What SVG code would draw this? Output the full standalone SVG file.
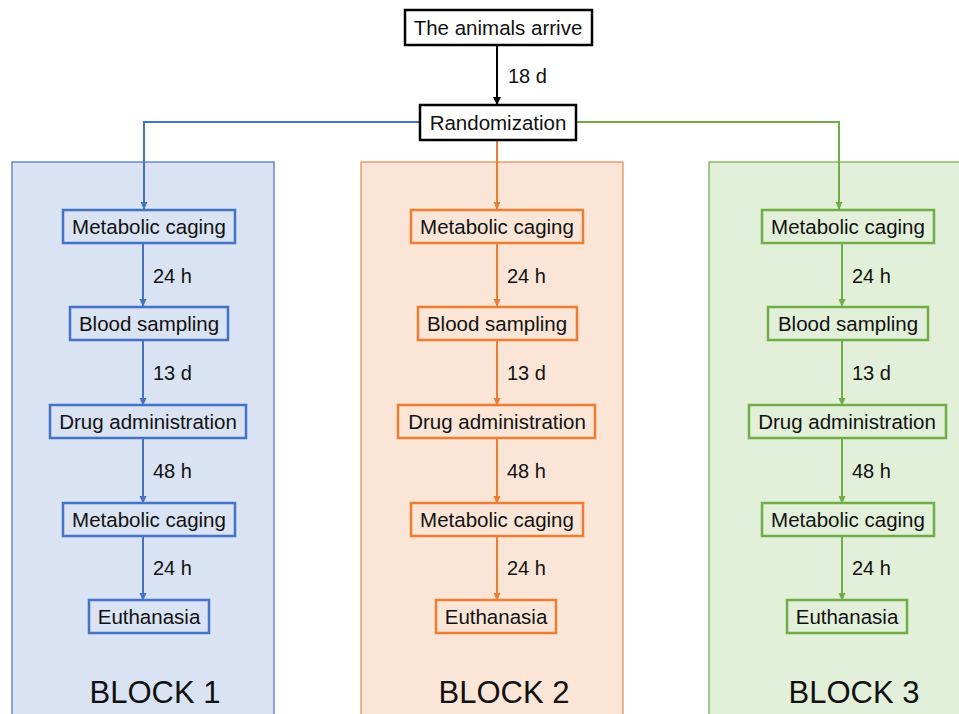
<svg xmlns="http://www.w3.org/2000/svg" width="959" height="714" viewBox="0 0 959 714">
<defs>
<marker id="ak" markerWidth="8" markerHeight="8" refX="7" refY="4" orient="auto" markerUnits="userSpaceOnUse"><path d="M0,0 L8,4 L0,8 z" fill="#000"/></marker>
<marker id="ab" markerWidth="8" markerHeight="8" refX="7" refY="4" orient="auto" markerUnits="userSpaceOnUse"><path d="M0,0.5 L8,4 L0,7.5 z" fill="#4472c4"/></marker>
<marker id="ao" markerWidth="8" markerHeight="8" refX="7" refY="4" orient="auto" markerUnits="userSpaceOnUse"><path d="M0,0.5 L8,4 L0,7.5 z" fill="#ed7d31"/></marker>
<marker id="ag" markerWidth="8" markerHeight="8" refX="7" refY="4" orient="auto" markerUnits="userSpaceOnUse"><path d="M0,0.5 L8,4 L0,7.5 z" fill="#70ad47"/></marker>
</defs>
<style>
text{font-family:"Liberation Sans",Arial,sans-serif;fill:#111;}
.t{font-size:20.5px;text-anchor:middle;}
.l{font-size:20px;}
.bl{font-size:31px;text-anchor:middle;}
.nk{fill:#fff;stroke:#000;stroke-width:2.5;}
.nb{fill:#dae3f3;stroke:#4472c4;stroke-width:2.5;}
.no{fill:#fbe5d6;stroke:#ed7d31;stroke-width:2.5;}
.ng{fill:#e2f0d9;stroke:#70ad47;stroke-width:2.5;}
.cb{stroke:#4472c4;stroke-width:2;fill:none;}
.co{stroke:#ed7d31;stroke-width:2;fill:none;}
.cg{stroke:#70ad47;stroke-width:2;fill:none;}
.ck{stroke:#000;stroke-width:2;fill:none;}
</style>
<g id="blocks">
<rect x="12" y="162" width="262" height="560" fill="#dae3f3" stroke="#4472c4" stroke-width="1.2"/>
<rect x="361" y="162" width="262" height="560" fill="#fbe5d6" stroke="#e0894e" stroke-width="1.2"/>
<rect x="709" y="162" width="262" height="560" fill="#e2f0d9" stroke="#70ad47" stroke-width="1.2"/>
<text class="bl" x="155" y="703">BLOCK 1</text>
<text class="bl" x="504" y="703">BLOCK 2</text>
<text class="bl" x="854" y="703">BLOCK 3</text>
</g>
<g id="connectors">
<line class="ck" x1="497" y1="45" x2="497" y2="104" marker-end="url(#ak)"/>
<text class="l" x="508" y="83">18 d</text>
<polyline class="cb" points="420,122 144,122 144,209" marker-end="url(#ab)"/>
<line class="co" x1="497" y1="140" x2="497" y2="209" marker-end="url(#ao)"/>
<polyline class="cg" points="576,122 839,122 839,209" marker-end="url(#ag)"/>
<g>
<line class="cb" x1="143" y1="243" x2="143" y2="306" marker-end="url(#ab)"/>
<line class="cb" x1="143" y1="340" x2="143" y2="405" marker-end="url(#ab)"/>
<line class="cb" x1="143" y1="438" x2="143" y2="503" marker-end="url(#ab)"/>
<line class="cb" x1="143" y1="536" x2="143" y2="600" marker-end="url(#ab)"/>
<text class="l" x="153" y="283">24 h</text>
<text class="l" x="153" y="380">13 d</text>
<text class="l" x="153" y="478">48 h</text>
<text class="l" x="153" y="575">24 h</text>
</g>
<g>
<line class="co" x1="497" y1="243" x2="497" y2="306" marker-end="url(#ao)"/>
<line class="co" x1="497" y1="340" x2="497" y2="405" marker-end="url(#ao)"/>
<line class="co" x1="497" y1="438" x2="497" y2="503" marker-end="url(#ao)"/>
<line class="co" x1="497" y1="536" x2="497" y2="600" marker-end="url(#ao)"/>
<text class="l" x="507" y="283">24 h</text>
<text class="l" x="507" y="380">13 d</text>
<text class="l" x="507" y="478">48 h</text>
<text class="l" x="507" y="575">24 h</text>
</g>
<g>
<line class="cg" x1="842" y1="243" x2="842" y2="306" marker-end="url(#ag)"/>
<line class="cg" x1="842" y1="340" x2="842" y2="405" marker-end="url(#ag)"/>
<line class="cg" x1="842" y1="438" x2="842" y2="503" marker-end="url(#ag)"/>
<line class="cg" x1="842" y1="536" x2="842" y2="600" marker-end="url(#ag)"/>
<text class="l" x="852" y="283">24 h</text>
<text class="l" x="852" y="380">13 d</text>
<text class="l" x="852" y="478">48 h</text>
<text class="l" x="852" y="575">24 h</text>
</g>
</g>
<g id="arrive"><rect class="nk" x="405" y="10" width="187" height="35"/><text class="t" x="498" y="35">The animals arrive</text></g>
<g id="random"><rect class="nk" x="420" y="105" width="156" height="35"/><text class="t" x="498" y="130">Randomization</text></g>
<g id="b1n1"><rect class="nb" x="63" y="210" width="172" height="33"/><text class="t" x="149" y="234">Metabolic caging</text></g>
<g id="b1n2"><rect class="nb" x="70" y="307" width="158" height="33"/><text class="t" x="149" y="331">Blood sampling</text></g>
<g id="b1n3"><rect class="nb" x="50" y="405" width="196" height="33"/><text class="t" x="148" y="429">Drug administration</text></g>
<g id="b1n4"><rect class="nb" x="63" y="503" width="172" height="33"/><text class="t" x="149" y="527">Metabolic caging</text></g>
<g id="b1n5"><rect class="nb" x="89" y="600" width="120" height="33"/><text class="t" x="149" y="624">Euthanasia</text></g>
<g id="b2n1"><rect class="no" x="411" y="210" width="172" height="33"/><text class="t" x="497" y="234">Metabolic caging</text></g>
<g id="b2n2"><rect class="no" x="418" y="307" width="159" height="33"/><text class="t" x="497" y="331">Blood sampling</text></g>
<g id="b2n3"><rect class="no" x="398" y="405" width="197" height="33"/><text class="t" x="497" y="429">Drug administration</text></g>
<g id="b2n4"><rect class="no" x="411" y="503" width="172" height="33"/><text class="t" x="497" y="527">Metabolic caging</text></g>
<g id="b2n5"><rect class="no" x="436" y="600" width="120" height="33"/><text class="t" x="496" y="624">Euthanasia</text></g>
<g id="b3n1"><rect class="ng" x="762" y="210" width="172" height="33"/><text class="t" x="848" y="234">Metabolic caging</text></g>
<g id="b3n2"><rect class="ng" x="768" y="307" width="160" height="33"/><text class="t" x="848" y="331">Blood sampling</text></g>
<g id="b3n3"><rect class="ng" x="749" y="405" width="197" height="33"/><text class="t" x="847" y="429">Drug administration</text></g>
<g id="b3n4"><rect class="ng" x="762" y="503" width="172" height="33"/><text class="t" x="848" y="527">Metabolic caging</text></g>
<g id="b3n5"><rect class="ng" x="787" y="600" width="120" height="33"/><text class="t" x="847" y="624">Euthanasia</text></g>
</svg>
